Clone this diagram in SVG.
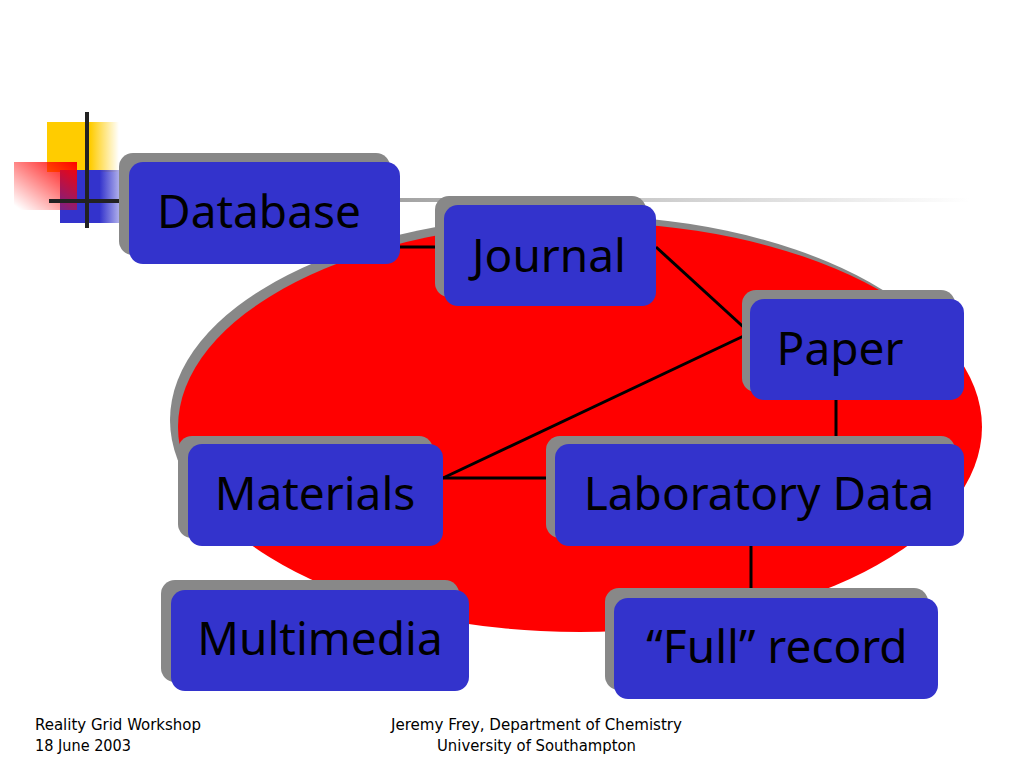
<svg xmlns="http://www.w3.org/2000/svg" width="1024" height="768" viewBox="0 0 1024 768">
<defs>
<linearGradient id="gYel" x1="0" y1="0" x2="1" y2="0"><stop offset="0" stop-color="#FFCC00"/><stop offset="0.6" stop-color="#FFCC00"/><stop offset="1" stop-color="#FFCC00" stop-opacity="0"/></linearGradient>
<linearGradient id="gBlue" x1="0" y1="0" x2="1" y2="0"><stop offset="0" stop-color="#3333CC"/><stop offset="0.55" stop-color="#3333CC"/><stop offset="1" stop-color="#3333CC" stop-opacity="0"/></linearGradient>
<linearGradient id="gRed" x1="1" y1="0" x2="0" y2="1"><stop offset="0" stop-color="#FF0000"/><stop offset="0.95" stop-color="#FF0000" stop-opacity="0"/></linearGradient>
<linearGradient id="gLine" x1="0" y1="0" x2="1" y2="0"><stop offset="0" stop-color="#A0A0A0"/><stop offset="0.5" stop-color="#D0D0D0"/><stop offset="1" stop-color="#FFFFFF"/></linearGradient>
<style>
.sh{fill:#888888;}
.bx{fill:#3333CC;}
.lb{font-family:"Noto Sans","Open Sans",sans-serif;font-size:46px;fill:#000;text-anchor:middle;}
.ft{font-family:"DejaVu Sans Condensed","DejaVu Sans",sans-serif;font-size:15px;fill:#000;}
.cn{stroke:#000;stroke-width:3;fill:none;}
</style>
</defs>
<rect width="1024" height="768" fill="#fff"/>
<g id="decoration">
<rect x="47" y="122" width="72" height="50" fill="url(#gYel)"/>
<rect x="60" y="170" width="72" height="53" fill="url(#gBlue)"/>
<rect x="14" y="162" width="63" height="48" fill="url(#gRed)"/>
<line x1="87" y1="112" x2="87" y2="228" stroke="#222" stroke-width="4"/>
<line x1="49" y1="201" x2="125" y2="201" stroke="#222" stroke-width="4"/>
<rect x="380" y="198" width="590" height="4" fill="url(#gLine)"/>
</g>
<g id="ellipse">
<ellipse cx="572" cy="420" rx="402" ry="205" fill="#888888"/>
<ellipse cx="580" cy="427" rx="402" ry="205" fill="#FF0000"/>
</g>
<g id="connectors">
<line class="cn" x1="400" y1="247" x2="444" y2="247"/>
<line class="cn" x1="656" y1="247" x2="750" y2="333"/>
<line class="cn" x1="750" y1="333" x2="443" y2="478"/>
<line class="cn" x1="443" y1="478" x2="555" y2="478"/>
<line class="cn" x1="836" y1="400" x2="836" y2="444"/>
<line class="cn" x1="751" y1="546" x2="751" y2="598"/>
</g>
<g id="database">
<rect class="sh" x="119" y="153" width="271" height="102" rx="14"/>
<rect class="bx" x="129" y="162" width="271" height="102" rx="14"/>
<text class="lb" x="259" y="228">Database</text>
</g>
<g id="journal">
<rect class="sh" x="435" y="196" width="211" height="101" rx="14"/>
<rect class="bx" x="444" y="205" width="212" height="101" rx="14"/>
<text class="lb" x="549" y="272">Journal</text>
</g>
<g id="paper">
<rect class="sh" x="742" y="290" width="213" height="102" rx="14"/>
<rect class="bx" x="750" y="299" width="214" height="101" rx="14"/>
<text class="lb" x="840" y="365">Paper</text>
</g>
<g id="materials">
<rect class="sh" x="178" y="436" width="255" height="102" rx="14"/>
<rect class="bx" x="188" y="444" width="255" height="102" rx="14"/>
<text class="lb" x="315" y="510">Materials</text>
</g>
<g id="laboratory-data">
<rect class="sh" x="546" y="436" width="409" height="102" rx="14"/>
<rect class="bx" x="555" y="444" width="409" height="102" rx="14"/>
<text class="lb" x="759" y="510">Laboratory Data</text>
</g>
<g id="multimedia">
<rect class="sh" x="161" y="580" width="298" height="102" rx="14"/>
<rect class="bx" x="171" y="590" width="298" height="101" rx="14"/>
<text class="lb" x="320" y="655">Multimedia</text>
</g>
<g id="full-record">
<rect class="sh" x="605" y="588" width="323" height="102" rx="14"/>
<rect class="bx" x="614" y="598" width="324" height="101" rx="14"/>
<text class="lb" x="777" y="663">“Full” record</text>
</g>
<g id="footer">
<text class="ft" x="35" y="730" textLength="166" lengthAdjust="spacingAndGlyphs">Reality Grid Workshop</text>
<text class="ft" x="35" y="751" textLength="96" lengthAdjust="spacingAndGlyphs">18 June 2003</text>
<text class="ft" x="391" y="730" textLength="291" lengthAdjust="spacingAndGlyphs">Jeremy Frey, Department of Chemistry</text>
<text class="ft" x="437" y="751" textLength="199" lengthAdjust="spacingAndGlyphs">University of Southampton</text>
</g>
</svg>
